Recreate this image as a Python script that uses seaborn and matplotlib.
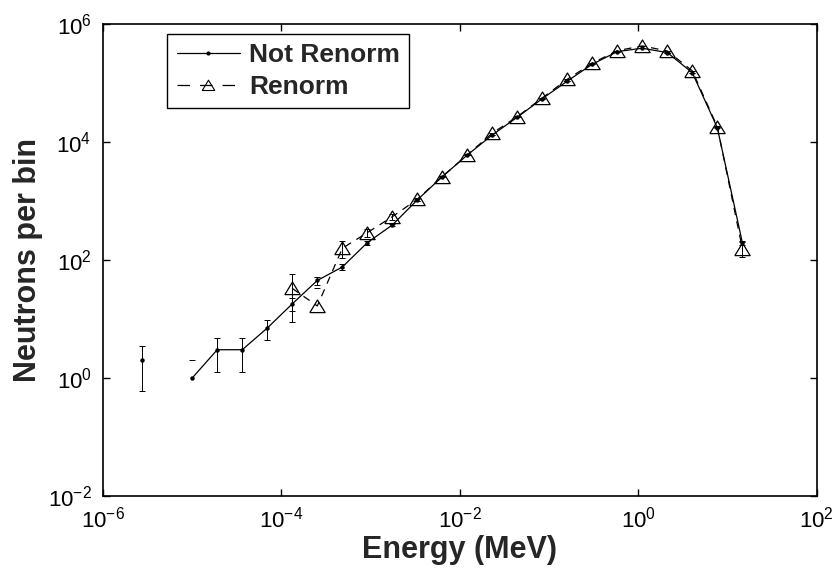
import numpy as np
import pandas as pd
import matplotlib
matplotlib.use("Agg")
import matplotlib.pyplot as plt
from matplotlib.lines import Line2D
from matplotlib.ticker import NullLocator
import seaborn as sns

nan = np.nan

# Bin centre energies (MeV)
energy_mev = [2.78e-6, 5.30e-6, 1.01e-5, 1.92e-5, 3.66e-5, 6.98e-5, 1.33e-4,
              2.54e-4, 4.84e-4, 9.22e-4, 1.76e-3, 3.35e-3, 6.38e-3, 1.22e-2,
              2.32e-2, 4.42e-2, 8.43e-2, 0.161, 0.306, 0.583, 1.11, 2.12,
              4.04, 7.70, 14.7]

# Neutron counts per bin, raw (empty bins are NaN)
not_renorm = [2, nan, 1, 3, 3, 7, 18, 45, 76, 197, 393, 1045, 2596, 6070,
              13250, 26500, 54800, 109000, 210000, 344000, 393000, 331000,
              151000, 17600, 197]
not_renorm_err = [1.41, nan, 1.0, 1.73, 1.73, 2.65, 4.24, 6.7, 8.7, 14, 19.8,
                  32, 51, 78, 115, 163, 234, 330, 458, 587, 627, 575, 389,
                  133, 14]

# Renormalised counts per bin
renorm = [nan, nan, nan, nan, nan, nan, 33, 16.6, 158, 291, 543, 1073, 2600,
          6100, 14200, 27100, 56300, 117000, 219000, 357000, 430000, 353000,
          162000, 18300, 156]
renorm_err = [nan, nan, nan, nan, nan, nan, 24, 16.6, 50, 45, 60, 70, 80,
              110, 150, 200, 300, 400, 600, 800, 800, 750, 500, 180, 45]

x_ticks = [1e-6, 1e-4, 1e-2, 1e0, 1e2]
y_ticks = [1e-2, 1e0, 1e2, 1e4, 1e6]

sns.set_style("ticks")
plt.rcParams["font.family"] = ["Liberation Sans", "DejaVu Sans"]
plt.rcParams["mathtext.fontset"] = "custom"
plt.rcParams["mathtext.rm"] = "Liberation Sans"
plt.rcParams["mathtext.it"] = "Liberation Sans:italic"
plt.rcParams["mathtext.bf"] = "Liberation Sans:bold"

df = pd.DataFrame({"energy": energy_mev,
                   "not_renorm": not_renorm, "not_renorm_err": not_renorm_err,
                   "renorm": renorm, "renorm_err": renorm_err})


def runs(col):
    """Split a series into contiguous runs so lines break at empty bins."""
    d = df[["energy", col]].rename(columns={col: "counts"})
    d["run"] = d["counts"].isna().cumsum()
    return d.dropna()


fig = plt.figure(figsize=(8.39, 5.76), dpi=100)
ax = fig.add_axes([0.1224, 0.1394, 0.851, 0.8184])
ax.set_xscale("log")
ax.set_yscale("log", nonpositive="mask")
ax.set_xlim(1e-6, 1e2)
ax.set_ylim(1e-2, 1e6)

tri = [(-1.0, -0.8), (1.0, -0.8), (0.0, 0.85), (-1.0, -0.8)]
dash = (0, (6, 5))

# Raw spectrum: solid line with dots
ax.errorbar(df["energy"], df["not_renorm"], yerr=df["not_renorm_err"],
            fmt="none", ecolor="k", elinewidth=0.7, capsize=2, capthick=0.7)
sns.lineplot(data=runs("not_renorm"), x="energy", y="counts", units="run",
             estimator=None, sort=False, color="k", linewidth=0.9,
             marker="o", markersize=3.2, markeredgewidth=0,
             markerfacecolor="k", legend=False, ax=ax)

# Renormalised spectrum: dashed line with open triangles
ax.errorbar(df["energy"], df["renorm"], yerr=df["renorm_err"],
            fmt="none", ecolor="k", elinewidth=0.7, capsize=2, capthick=0.7)
sns.lineplot(data=runs("renorm"), x="energy", y="counts", units="run",
             estimator=None, sort=False, color="k", linewidth=0.9,
             linestyle=dash, marker=tri, markersize=11,
             markerfacecolor="none", markeredgecolor="k",
             markeredgewidth=0.9, legend=False, ax=ax)

ax.set_xticks(x_ticks)
ax.set_yticks(y_ticks)
ax.xaxis.set_minor_locator(NullLocator())
ax.yaxis.set_minor_locator(NullLocator())
ax.tick_params(which="major", direction="in", length=5, width=1,
               top=True, right=True, labelsize=16, pad=8, colors="k")
for s in ax.spines.values():
    s.set_linewidth(1.2)
    s.set_color("k")

ax.set_xlabel("Energy (MeV)", fontsize=22, fontweight="bold", labelpad=2)
ax.set_ylabel("Neutrons per bin", fontsize=22, fontweight="bold", labelpad=3)

handles = [
    Line2D([], [], color="k", linewidth=0.9, marker="o", markersize=3,
           markeredgewidth=0, markerfacecolor="k"),
    Line2D([], [], color="k", linewidth=0.9, linestyle=(0, (10, 8)),
           marker=tri, markersize=9, markerfacecolor="none",
           markeredgecolor="k", markeredgewidth=0.8),
]
leg = ax.legend(handles, ["Not Renorm", "Renorm"], loc="upper left",
                bbox_to_anchor=(0.0905, 0.9794), borderaxespad=0,
                prop={"weight": "bold", "size": 19}, handlelength=2.4,
                handletextpad=0.35, labelspacing=0.3, borderpad=0.35,
                numpoints=1, fancybox=False, framealpha=1, edgecolor="k")
leg.get_frame().set_linewidth(1.0)

fig.savefig("out.png", dpi=100)
